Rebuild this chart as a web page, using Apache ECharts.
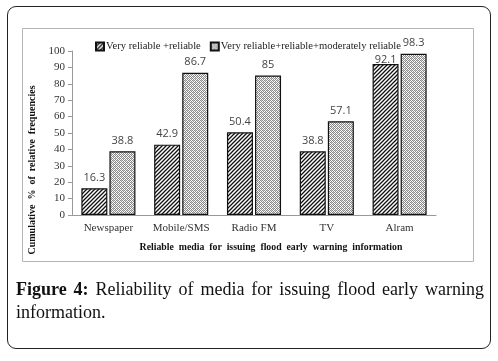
<!DOCTYPE html>
<html>
<head>
<meta charset="utf-8">
<script src="https://cdn.jsdelivr.net/npm/echarts@6/dist/echarts.min.js"></script>
<style>
  html, body { margin: 0; padding: 0; background: #fff; }
  #frame {
    position: absolute; left: 7px; top: 6px; width: 482px; height: 341px;
    border: 1.5px solid #222; border-radius: 9px;
  }
  #chart { position: absolute; left: 0; top: 0; width: 498px; height: 361px; }
  #caption {
    position: absolute; left: 16px; top: 278px; width: 468px;
    font-family: 'Liberation Serif', 'DejaVu Serif', serif; font-size: 18px;
    line-height: 23px; color: #111; text-align: justify; text-align-last: left;
  }
  #caption b { font-weight: bold; }
</style>
</head>
<body>
<div id="frame"></div>
<div id="chart"></div>
<div id="caption"><b>Figure 4:</b> Reliability of media for issuing flood early warning information.</div>
<script>
// 数据
const categories = ['Newspaper', 'Mobile/SMS', 'Radio FM', 'TV', 'Alram'];
const reliable = [16.3, 42.9, 50.4, 38.8, 92.1];
const moderately = [38.8, 86.7, 85, 57.1, 98.3];
const seriesNames = ['Very reliable +reliable', 'Very reliable+reliable+moderately reliable'];
const yTicks = {min: 0, max: 100, interval: 10};

// 斜线填充
function hatchPattern() {
  const c = document.createElement('canvas');
  c.width = 4; c.height = 4;
  const ctx = c.getContext('2d');
  ctx.fillStyle = '#fff';
  ctx.fillRect(0, 0, 4, 4);
  ctx.strokeStyle = '#111';
  ctx.lineWidth = 1.3;
  ctx.beginPath();
  ctx.moveTo(-1, 5); ctx.lineTo(5, -1);
  ctx.moveTo(-1, 1); ctx.lineTo(1, -1);
  ctx.moveTo(3, 5); ctx.lineTo(5, 3);
  ctx.stroke();
  return c;
}
// 网格点填充
function checkPattern() {
  const c = document.createElement('canvas');
  c.width = 4; c.height = 4;
  const ctx = c.getContext('2d');
  ctx.fillStyle = '#fff';
  ctx.fillRect(0, 0, 4, 4);
  ctx.fillStyle = '#8a8a8a';
  [[0, 0], [2, 0], [1, 1], [3, 1], [0, 2], [2, 2], [1, 3], [3, 3]].forEach(p => {
    ctx.fillRect(p[0], p[1], 1, 1);
  });
  ctx.fillStyle = '#c8c8c8';
  [[1, 0], [3, 2]].forEach(p => ctx.fillRect(p[0], p[1], 1, 1));
  return c;
}

const myChart = echarts.init(document.getElementById('chart'), null, {renderer: 'canvas'});
const serif = 'Liberation Serif';
const labelStyle = {
  show: true,
  position: 'top',
  distance: 5,
  fontFamily: 'Open Sans',
  fontSize: 11,
  color: '#444'
};

const option = {
  animation: false,
  graphic: [
    {
      type: 'rect',
      shape: {x: 22.5, y: 28.5, width: 451, height: 233},
      style: {fill: 'none', stroke: '#b5b5b5', lineWidth: 1},
      silent: true
    }
  ],
  legend: {
    top: 36,
    left: 90,
    itemWidth: 8,
    itemHeight: 8,
    itemGap: 9,
    icon: 'rect',
    textStyle: {fontFamily: serif, fontSize: 10.6, color: '#222', padding: [0, 0, 0, -3]},
    data: seriesNames
  },
  grid: {left: 72, top: 51, width: 364, height: 164},
  xAxis: {
    type: 'category',
    data: categories,
    axisLine: {lineStyle: {color: '#999'}},
    axisTick: {show: false},
    axisLabel: {interval: 0, fontFamily: serif, fontSize: 11, color: '#333', margin: 8},
    name: 'Reliable  media  for  issuing  flood  early  warning  information',
    nameLocation: 'middle',
    nameGap: 27,
    nameTextStyle: {fontFamily: serif, fontSize: 9.8, fontWeight: 'bold', color: '#111', padding: [0, 0, 0, 34]}
  },
  yAxis: {
    type: 'value',
    min: yTicks.min,
    max: yTicks.max,
    interval: yTicks.interval,
    splitLine: {show: false},
    axisLine: {show: true, lineStyle: {color: '#999'}},
    axisTick: {show: true, length: 4, lineStyle: {color: '#999'}},
    axisLabel: {fontFamily: serif, fontSize: 11, color: '#333', margin: 7},
    name: 'Cumulative  %  of  relative  frequencies',
    nameLocation: 'middle',
    nameGap: 31,
    nameTextStyle: {fontFamily: serif, fontSize: 10, fontWeight: 'bold', color: '#111', padding: [0, 74, 0, 0]}
  },
  series: [
    {
      name: seriesNames[0],
      type: 'bar',
      barWidth: 26,
      barGap: '8%',
      data: reliable.map((v, i) => i === 4 ? {value: v, label: {distance: -1}} : v),
      itemStyle: {color: {image: hatchPattern(), repeat: 'repeat'}, borderColor: '#111', borderWidth: 1.2},
      label: labelStyle
    },
    {
      name: seriesNames[1],
      type: 'bar',
      barWidth: 26,
      data: moderately,
      itemStyle: {color: {image: checkPattern(), repeat: 'repeat'}, borderColor: '#111', borderWidth: 1.2},
      label: labelStyle
    }
  ]
};
myChart.setOption(option);
</script>
</body>
</html>
